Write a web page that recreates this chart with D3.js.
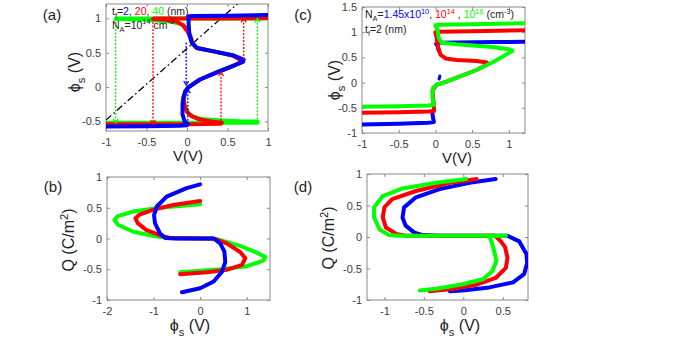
<!DOCTYPE html>
<html><head><meta charset="utf-8">
<script src="https://cdn.jsdelivr.net/npm/d3@7"></script>
<style>body{margin:0;background:#fff}svg{display:block}</style>
</head><body>
<script>
// ---------------- DATA ----------------
// Panel (a): phi_s vs V, tf = 2 (blue), 20 (red), 40 (green) nm
const aBlue = [[-1,-0.575],[-0.5,-0.57],[-0.1,-0.565],[0.0,-0.555],[0.01,-0.54],[-0.03,-0.5],[-0.055,-0.4],[-0.055,-0.25],[-0.045,-0.15],[-0.02,-0.06],[0.02,0.0],[0.16,0.11],[0.36,0.21],[0.57,0.31],[0.69,0.37],[0.70,0.40],[0.57,0.46],[0.33,0.52],[0.12,0.57],[0.06,0.64],[0.03,0.76],[0.02,0.92],[0.02,1.03],[0.1,1.035],[0.5,1.04],[1,1.05]];
const aRed = [[-1,-0.54],[-0.5,-0.54],[0,-0.54],[0.42,-0.535],[0.43,-0.52],[0.3,-0.50],[0.15,-0.47],[0.05,-0.42],[0.0,-0.36],[-0.03,-0.28],[-0.04,-0.15],[-0.02,-0.06],[0.02,0.0],[0.16,0.11],[0.36,0.21],[0.57,0.31],[0.69,0.37],[0.57,0.46],[0.33,0.52],[0.12,0.57],[0.07,0.64],[0.04,0.74],[0.0,0.82],[-0.05,0.9],[-0.13,0.955],[-0.25,0.98],[-0.42,0.99],[-0.41,1.0],[0,1.0],[0.5,1.0],[1,1.005]];
const aGreen = [[-1,-0.52],[-0.5,-0.52],[0,-0.52],[0.5,-0.52],[0.87,-0.52],[0.87,-0.50],[0.7,-0.50],[0.5,-0.49],[0.2,-0.47],[0.08,-0.43],[0.02,-0.38],[-0.02,-0.3],[-0.04,-0.2],[-0.02,-0.06],[0.02,0.0],[0.16,0.11],[0.36,0.21],[0.57,0.31],[0.69,0.37],[0.57,0.46],[0.33,0.52],[0.12,0.57],[0.07,0.64],[0.04,0.76],[0.0,0.85],[-0.05,0.91],[-0.2,0.955],[-0.5,0.98],[-0.88,0.99],[-0.87,1.0],[-0.5,1.0],[0,1.0],[1,1.0]];
const aLoadV = [-1, 0.65];
const aLoadPhi = [-0.48, 1.24];
const aArrowV      = [-0.88, -0.42, -0.01, 0.01, 0.42, 0.70, 0.87];
const aArrowFrom   = [1.0, 1.0, 0.65, -0.54, -0.54, 0.40, -0.52];
const aArrowTo     = [-0.52, -0.54, 0.03, -0.03, 0.22, 1.0, 1.0];
const aArrowSeries = ["green","red","blue","blue","red","red","green"];
const aXTicks = [-1,-0.5,0,0.5,1];
const aYTicks = [-0.5,0,0.5,1];

// Panel (c): phi_s vs V, NA = 1.45e10 (blue), 1e14 (red), 1e16 (green)
const cBlueLow  = [[-1,-0.83],[-0.5,-0.815],[-0.1,-0.795],[-0.02,-0.78],[-0.03,-0.72],[-0.04,-0.62]];
const cBlueSpot = [[0.05,0.07],[0.06,0.13]];
const cBlueHigh = [[0.045,0.64],[0.03,0.72],[0.01,0.77],[0.03,0.79],[0.3,0.795],[0.8,0.805],[1.22,0.81]];
const cRed = [[-1,-0.6],[-0.5,-0.59],[-0.1,-0.575],[-0.02,-0.565],[-0.02,-0.5],[-0.03,-0.35],[-0.04,-0.15],[0.015,-0.046],[0.15,0.02],[0.56,0.25],[0.69,0.35],[0.70,0.40],[0.56,0.43],[0.29,0.45],[0.14,0.48],[0.07,0.55],[0.04,0.68],[0.015,0.9],[0.0,1.0],[0.03,1.01],[0.5,1.02],[1.22,1.04]];
const cGreen = [[-1,-0.48],[-0.5,-0.47],[-0.1,-0.455],[-0.02,-0.44],[-0.02,-0.4],[-0.04,-0.3],[-0.04,-0.2],[-0.03,-0.1],[0.015,-0.046],[0.15,0.02],[0.56,0.25],[0.8,0.42],[0.98,0.57],[1.05,0.63],[1.0,0.66],[0.74,0.71],[0.29,0.76],[0.083,0.79],[0.047,0.88],[0.028,1.05],[0.0,1.14],[0.05,1.15],[0.5,1.16],[1.22,1.18]];
const cXTicks = [-1,-0.5,0,0.5,1];
const cYTicks = [-1,-0.5,0,0.5,1,1.5];

// Panel (b): Q vs phi_s, tf = 2 (blue), 20 (red), 40 (green)
const bBlue = [[0,0.88],[-0.29,0.82],[-0.72,0.68],[-0.93,0.52],[-0.99,0.38],[-0.97,0.25],[-0.86,0.08],[-0.75,0.01],[-0.5,0.0],[0,0],[0.29,0],[0.43,-0.08],[0.52,-0.21],[0.54,-0.38],[0.47,-0.54],[0.29,-0.70],[0,-0.81],[-0.39,-0.875]];
const bRed = [[0,0.61],[-0.58,0.545],[-1.0,0.47],[-1.3,0.39],[-1.39,0.33],[-1.34,0.25],[-1.16,0.14],[-0.86,0.05],[-0.65,0.01],[0,0],[0.29,0],[0.57,-0.08],[0.86,-0.22],[0.97,-0.32],[0.90,-0.43],[0.57,-0.51],[0.15,-0.55],[-0.43,-0.58]];
const bGreen = [[0,0.556],[-0.87,0.5],[-1.43,0.44],[-1.78,0.36],[-1.84,0.30],[-1.76,0.22],[-1.43,0.11],[-1.0,0.04],[-0.71,0.01],[0,0],[0.36,-0.01],[0.86,-0.12],[1.22,-0.23],[1.40,-0.30],[1.36,-0.36],[1.0,-0.45],[0.43,-0.5],[-0.43,-0.55]];
const bXTicks = [-2,-1,0,1];
const bYTicks = [-1,-0.5,0,0.5,1];

// Panel (d): Q vs phi_s, NA = 1.45e10 (blue), 1e14 (red), 1e16 (green)
const dBlue = [[0.41,0.92],[0.08,0.86],[-0.30,0.76],[-0.6,0.63],[-0.75,0.47],[-0.77,0.31],[-0.73,0.18],[-0.62,0.07],[-0.51,0.03],[-0.3,0.02],[0.56,0.02],[0.71,-0.07],[0.80,-0.27],[0.81,-0.41],[0.77,-0.59],[0.63,-0.72],[0.33,-0.8],[-0.01,-0.85],[-0.17,-0.86]];
const dRed = [[0.17,0.92],[-0.17,0.86],[-0.6,0.73],[-0.9,0.6],[-1.0,0.47],[-1.02,0.31],[-0.98,0.15],[-0.85,0.05],[-0.73,0.02],[0.4,0.02],[0.47,-0.06],[0.53,-0.16],[0.56,-0.33],[0.54,-0.49],[0.41,-0.65],[0.16,-0.76],[-0.17,-0.83],[-0.43,-0.86]];
const dGreen = [[0.035,0.92],[-0.34,0.86],[-0.77,0.77],[-1.02,0.65],[-1.13,0.47],[-1.13,0.31],[-1.06,0.12],[-0.94,0.03],[-0.81,0.02],[0.54,0.02],[0.33,0.015],[0.36,-0.08],[0.38,-0.17],[0.42,-0.38],[0.37,-0.54],[0.25,-0.67],[-0.01,-0.75],[-0.34,-0.82],[-0.55,-0.85]];
const dXTicks = [-1,-0.5,0,0.5];
const dYTicks = [-1,-0.5,0,0.5,1];

// ---------------- DRAWING ----------------
const COL = {blue:"#0000ff", red:"#ff0000", green:"#00ff00"};
const FONT = "'Liberation Sans', Arial, sans-serif";
const AXC = "#8a8a8a", TXC = "#404040";
const svg = d3.select("body").append("svg").attr("width",675).attr("height",338)
  .style("font-family", FONT);

function rich(sel, parts, fs){
  let shift = 0;
  parts.forEach(p=>{
    const target = p.s==="sub" ? fs*0.3 : p.s==="sup" ? -fs*0.4 : 0;
    const t = sel.append("tspan").text(p.t).attr("dy", target-shift);
    shift = target;
    if(p.s) t.attr("font-size", fs*0.7);
    if(p.c) t.attr("fill", p.c);
  });
}

function panel(o){
  const x = d3.scaleLinear().domain(o.xd).range(o.xr);
  const y = d3.scaleLinear().domain(o.yd).range(o.yr);
  const g = svg.append("g");
  const cid = "clip"+o.id;
  svg.append("clipPath").attr("id",cid).append("rect")
    .attr("x",o.xr[0]).attr("y",o.yr[1]).attr("width",o.xr[1]-o.xr[0]).attr("height",o.yr[0]-o.yr[1]);
  const fmt = d => String(d);
  const axes = [
    [d3.axisBottom(x).tickValues(o.xt).tickFormat(fmt).tickPadding(o.xpad||7), `translate(0,${o.yr[0]})`, true],
    [d3.axisTop(x).tickValues(o.xt).tickFormat(""), `translate(0,${o.yr[1]})`, false],
    [d3.axisLeft(y).tickValues(o.yt).tickFormat(fmt).tickPadding(o.ypad||5), `translate(${o.xr[0]},0)`, true],
    [d3.axisRight(y).tickValues(o.yt).tickFormat(""), `translate(${o.xr[1]},0)`, false]
  ];
  axes.forEach(([ax,tr,lab])=>{
    ax.tickSizeInner(-3).tickSizeOuter(0);
    const a = g.append("g").attr("transform",tr).call(ax);
    a.select(".domain").remove();
    a.selectAll(".tick line").attr("stroke",AXC);
    a.selectAll(".tick text").attr("fill",TXC).attr("font-size",11).attr("font-family",FONT);
  });
  g.append("rect").attr("x",o.xr[0]).attr("y",o.yr[1]).attr("width",o.xr[1]-o.xr[0]).attr("height",o.yr[0]-o.yr[1])
    .attr("fill","none").attr("stroke",AXC).attr("stroke-width",1);
  const plot = svg.append("g").attr("clip-path",`url(#${cid})`);
  return {x,y,plot};
}

function curve(p, data, color, w){
  p.plot.append("path").datum(data)
    .attr("d", d3.line().x(d=>p.x(d[0])).y(d=>p.y(d[1])))
    .attr("fill","none").attr("stroke",color).attr("stroke-width",w||4)
    .attr("stroke-linejoin","round").attr("stroke-linecap","round");
}

function label(x,y,parts,fs,rot){
  const t = svg.append("text").attr("font-size",fs).attr("fill","#222")
    .attr("text-anchor","middle")
    .attr("transform", `translate(${x},${y})` + (rot?" rotate(-90)":""));
  rich(t, parts, fs);
  return t;
}

// ---- Panel (a)
const pa = panel({id:"a", xd:[-1,1], xr:[106,268], yd:[-0.64,1.21], yr:[131,4], xt:aXTicks, yt:aYTicks});
pa.plot.append("path").datum(aLoadV.map((v,i)=>[v,aLoadPhi[i]]))
  .attr("d", d3.line().x(d=>pa.x(d[0])).y(d=>pa.y(d[1])))
  .attr("stroke","#000").attr("stroke-width",1.3).attr("stroke-dasharray","7,3,1.5,3").attr("fill","none");
curve(pa, aGreen, COL.green);
curve(pa, aRed, COL.red);
curve(pa, aBlue, COL.blue);
aArrowV.forEach((v,i)=>{
  const c = COL[aArrowSeries[i]];
  const X = pa.x(v), y0 = pa.y(aArrowFrom[i]), y1 = pa.y(aArrowTo[i]);
  const dir = y1 > y0 ? 1 : -1;
  svg.append("line").attr("x1",X).attr("x2",X).attr("y1",y0).attr("y2",y1)
    .attr("stroke",c).attr("stroke-width",1.3).attr("stroke-dasharray","2,1.5");
  svg.append("path").attr("d",`M${X-2.5},${y1-dir*4}L${X},${y1}L${X+2.5},${y1-dir*4}`)
    .attr("stroke",c).attr("stroke-width",1.2).attr("fill","none");
});
label(52,20,[{t:"(a)"}],15);
label(80,72,[{t:"ϕ"},{t:"s",s:"sub"},{t:" (V)"}],16,true);
label(188,161,[{t:"V(V)"}],15);
{
  const t1 = svg.append("text").attr("x",112).attr("y",14.5).attr("font-size",10.5).attr("fill","#222");
  rich(t1,[{t:"t"},{t:"f",s:"sub"},{t:"="},{t:"2",c:COL.blue},{t:", "},{t:"20",c:COL.red},{t:", "},{t:"40",c:COL.green},{t:" (nm)"}],10.5);
  const t2 = svg.append("text").attr("x",112).attr("y",28.5).attr("font-size",10.5).attr("fill","#222");
  rich(t2,[{t:"N"},{t:"A",s:"sub"},{t:"=10"},{t:"14",s:"sup"},{t:" cm"},{t:"-3",s:"sup"}],10.5);
}

// ---- Panel (c)
const pc = panel({id:"c", xd:[-1,1.22], xr:[362,525], yd:[-1,1.5], yr:[133,7], xt:cXTicks, yt:cYTicks});
curve(pc, cBlueLow, COL.blue);
curve(pc, cBlueSpot, COL.blue, 3);
curve(pc, cBlueHigh, COL.blue);
curve(pc, cRed, COL.red);
curve(pc, cGreen, COL.green);
label(303,20,[{t:"(c)"}],15);
label(340,80,[{t:"ϕ"},{t:"s",s:"sub"},{t:" (V)"}],16,true);
label(457,163,[{t:"V(V)"}],15);
{
  const t1 = svg.append("text").attr("x",365).attr("y",18).attr("font-size",10.5).attr("fill","#222");
  rich(t1,[{t:"N"},{t:"A",s:"sub"},{t:"="},{t:"1.45x10",c:COL.blue},{t:"10",s:"sup",c:COL.blue},{t:", "},{t:"10",c:COL.red},{t:"14",s:"sup",c:COL.red},{t:" , "},{t:"10",c:COL.green},{t:"16",s:"sup",c:COL.green},{t:" (cm"},{t:"-3",s:"sup"},{t:")"}],10.5);
  const t2 = svg.append("text").attr("x",365).attr("y",33).attr("font-size",10.5).attr("fill","#222");
  rich(t2,[{t:"t"},{t:"f",s:"sub"},{t:"=2 (nm)"}],10.5);
}

// ---- Panel (b)
const pb = panel({id:"b", xd:[-2,1.5], xr:[107,270], yd:[-1,1], yr:[300,177], xt:bXTicks, yt:bYTicks});
curve(pb, bGreen, COL.green);
curve(pb, bRed, COL.red);
curve(pb, bBlue, COL.blue);
label(53,192,[{t:"(b)"}],15);
label(74,240,[{t:"Q (C/m"},{t:"2",s:"sup"},{t:")"}],16,true);
label(190,331,[{t:"ϕ"},{t:"s",s:"sub"},{t:" (V)"}],16);

// ---- Panel (d)
const pd = panel({id:"d", xd:[-1.22,0.82], xr:[367,528], yd:[-1,1], yr:[300,174], xt:dXTicks, yt:dYTicks});
curve(pd, dBlue, COL.blue);
curve(pd, dRed, COL.red);
curve(pd, dGreen, COL.green);
label(303,192,[{t:"(d)"}],15);
label(334,238,[{t:"Q (C/m"},{t:"2",s:"sup"},{t:")"}],16,true);
label(460,331,[{t:"ϕ"},{t:"s",s:"sub"},{t:" (V)"}],16);
</script>
</body></html>
